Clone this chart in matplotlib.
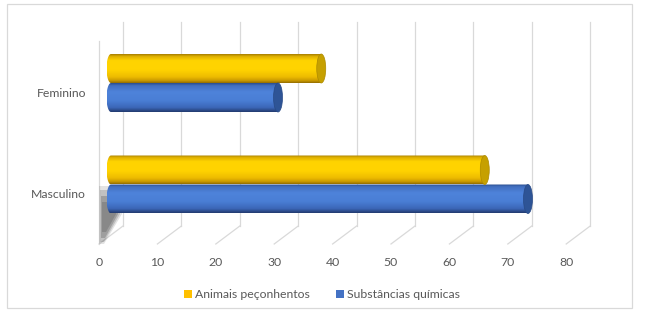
import numpy as np
import matplotlib
matplotlib.use("Agg")
import matplotlib.pyplot as plt
from matplotlib.colors import LinearSegmentedColormap
from matplotlib.path import Path
from matplotlib.patches import PathPatch, Ellipse, Rectangle, Patch, Polygon

plt.rcParams['font.family'] = ['Lato', 'DejaVu Sans']

# ---- data -------------------------------------------------------------
categories = ["Masculino", "Feminino"]
series_names = ["Animais peçonhentos", "Substâncias químicas"]
animais = [64.0, 36.0]
substancias = [71.4, 28.6]
x_ticks = [0, 10, 20, 30, 40, 50, 60, 70, 80]

# ---- layout (pixels) --------------------------------------------------
W, H, DPI = 647, 325, 100
PX = 5.84           # pixels per value unit along x
X0 = 99.0           # pixel x of value 0 on the front plane
PY = 101.5          # pixels between category rows
Y0 = 184.5          # pixel y of the first row centre (bar plane)
DEPTH_X, DEPTH_Y = 24.0, 18.0   # front->back offset of the 3D box
BAR_H = 29.0        # bar thickness in pixels
CAP_W = 9.0         # width of the cylinder end ellipse in pixels

GRID = "#D9D9D9"
TEXT = "#595959"

fig = plt.figure(figsize=(W / DPI, H / DPI), dpi=DPI)
ax = fig.add_axes([0, 0, 1, 1])
ax.set_xlim(-X0 / PX, (W - X0) / PX)
ax.set_ylim((Y0 - H) / PY, Y0 / PY)
ax.axis("off")


def xu(px):
    """pixel length -> x data units"""
    return px / PX


def yu(py):
    """pixel y position -> y data units"""
    return (Y0 - py) / PY


# ---- walls and gridlines ---------------------------------------------
back_top, back_bot, front_bot = yu(22), yu(226), yu(244)
for v in x_ticks:
    xb = v + xu(DEPTH_X)
    ax.plot([xb, xb], [back_bot, back_top], color=GRID, lw=0.9, zorder=1)
    ax.plot([xb, v], [back_bot, front_bot], color=GRID, lw=0.9, zorder=1)
# front edge of the left side wall
ax.plot([0, 0], [front_bot, yu(41)], color=GRID, lw=0.9, zorder=1)

# soft floor shadow at the left end of the bars
shadow_layers = [
    ([(101, 186), (120, 186), (122, 214), (104, 244), (99, 244), (99, 186)], 0.14),
    ([(102, 190), (119, 190), (120, 214), (104, 242), (100, 242), (100, 190)], 0.20),
    ([(103, 196), (117, 196), (118, 214), (105, 238), (101, 238), (101, 196)], 0.26),
    ([(104, 202), (115, 202), (116, 214), (106, 232), (102, 232), (102, 202)], 0.22),
]
for pts, a in shadow_layers:
    poly = [(xu(px - X0), yu(py)) for px, py in pts]
    ax.add_patch(Polygon(poly, closed=True, facecolor="#3A3A3A",
                         edgecolor="none", alpha=a, zorder=2))

# ---- cylinders --------------------------------------------------------
yellow_cmap = LinearSegmentedColormap.from_list("yel", [
    (0.00, "#A87F00"), (0.07, "#DDAE00"), (0.22, "#FFD400"),
    (0.55, "#FFD300"), (0.80, "#EDBB00"), (0.93, "#C79700"), (1.00, "#946E00")])
blue_cmap = LinearSegmentedColormap.from_list("blu", [
    (0.00, "#2B4E8E"), (0.08, "#416EBF"), (0.30, "#4E83DA"),
    (0.60, "#4A7ED5"), (0.85, "#3C67B8"), (1.00, "#233B70")])
cap_colors = {"yel": ("#C6A000", "#AD8A00"), "blu": ("#2E5496", "#284A86")}

grad = np.linspace(0, 1, 64)


def cylinder(value, yc, cmap, caps):
    bar_dx = xu(DEPTH_X / 2)
    x0, x1 = bar_dx, value + bar_dx
    a = xu(CAP_W / 2)
    b = (BAR_H / 2) / PY
    yt, yb = yc + b, yc - b
    th = np.linspace(1.5 * np.pi, 0.5 * np.pi, 40)
    verts = [(x0, yt), (x1, yt), (x1, yb), (x0, yb)]
    verts += [(x0 + a * np.cos(t), yc + b * np.sin(t)) for t in th]
    verts.append((x0, yt))
    codes = [Path.MOVETO] + [Path.LINETO] * (len(verts) - 2) + [Path.CLOSEPOLY]
    body = PathPatch(Path(verts, codes), facecolor="none", edgecolor="none")
    ax.add_patch(body)
    rgb = cmap(grad)[:, :3].reshape(-1, 1, 3)
    im = ax.imshow(rgb, extent=[x0 - a, x1, yb, yt], origin="upper",
                   aspect="auto", interpolation="bilinear", zorder=3)
    im.set_clip_path(body)
    face, edge = caps
    ax.add_patch(Ellipse((x1, yc), 2 * a, 2 * b, facecolor=face,
                         edgecolor=edge, lw=0.5, zorder=4))


half = (BAR_H / 2) / PY
for i in range(len(categories)):
    cylinder(animais[i], i + half, yellow_cmap, cap_colors["yel"])
    cylinder(substancias[i], i - half, blue_cmap, cap_colors["blu"])

ax.set_xlim(-X0 / PX, (W - X0) / PX)
ax.set_ylim((Y0 - H) / PY, Y0 / PY)

# ---- labels -----------------------------------------------------------
for i, name in enumerate(categories):
    ax.text(xu(86 - X0), i - 10.5 / PY, name, ha="right", va="center",
            fontsize=8.8, color=TEXT)
for v in x_ticks:
    ax.text(v, yu(263), str(v), ha="center", va="center",
            fontsize=8.8, color=TEXT)

handles = [Patch(facecolor="#FFC000", edgecolor="none"),
           Patch(facecolor="#4472C4", edgecolor="none")]
leg = ax.legend(handles, series_names, loc="center",
                bbox_to_anchor=(322 / W, 1 - 295 / H), ncol=2, frameon=False,
                fontsize=8.8, handlelength=0.65, handleheight=0.65,
                handletextpad=0.3, columnspacing=2.1, borderaxespad=0)
for t in leg.get_texts():
    t.set_color(TEXT)

# chart area border
fig.add_artist(Rectangle((6.5 / W, 1 - 307.5 / H), 625.5 / W, 304 / H,
                         transform=fig.transFigure, fill=False,
                         edgecolor=GRID, lw=0.9))

fig.savefig("out.png", dpi=DPI)
